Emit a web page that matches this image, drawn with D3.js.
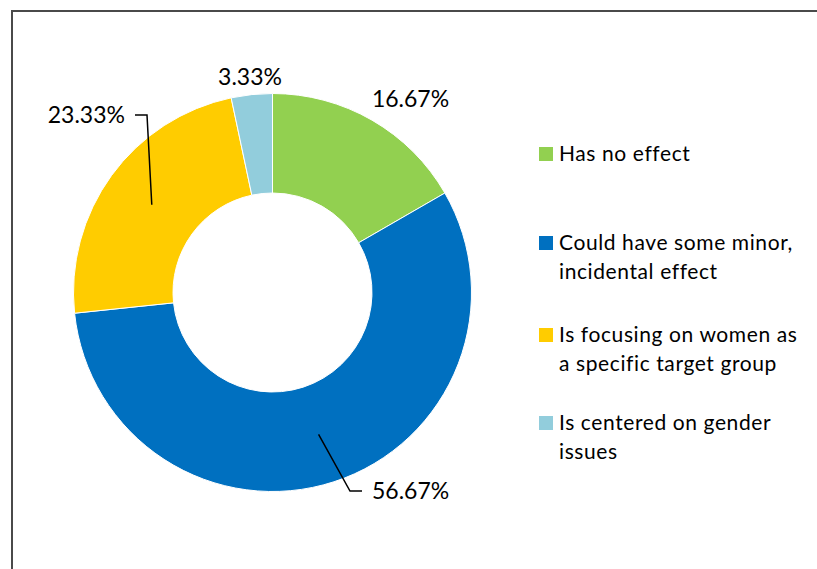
<!DOCTYPE html>
<html>
<head>
<meta charset="utf-8">
<script src="https://cdn.jsdelivr.net/npm/d3@7"></script>
<style>
  html, body { margin: 0; padding: 0; background: #fff; }
  svg { display: block; }
  text { font-family: Lato, "Open Sans", sans-serif; fill: #000; }
</style>
</head>
<body>
<svg id="chart" width="817" height="569"></svg>
<script>
// Survey answers: share of respondents per category (percent)
const categories = [
  "Has no effect",
  "Could have some minor, incidental effect",
  "Is focusing on women as a specific target group",
  "Is centered on gender issues"
];
const values = [16.67, 56.67, 23.33, 3.33];
const colors = ["#92D050", "#0070C0", "#FFCC00", "#92CDDC"];
// Legend text broken into display lines
const legendLines = [
  ["Has no effect"],
  ["Could have some minor,", "incidental effect"],
  ["Is focusing on women as", "a specific target group"],
  ["Is centered on gender", "issues"]
];

// Layout
const W = 817, H = 569;
const cx = 272.5, cy = 292.5;
const outerR = 199, innerR = 99.5;

// Label placement, relative to the donut centre.
// leader: elbow point of the leader line (null = no leader), dir: side of the text
const labelLayout = [
  { x: 138, y: -194, dir: 0, leader: null },
  { x: 77.5, y: 198.5, dir: 1, leader: true },
  { x: -125.5, y: -177.5, dir: -1, leader: true },
  { x: -22.5, y: -215.5, dir: 0, leader: null }
];

const svg = d3.select("#chart");

// Outer frame (extends past the right and bottom edges)
svg.append("rect")
  .attr("x", 12).attr("y", 11)
  .attr("width", W + 20).attr("height", H + 20)
  .attr("fill", "none")
  .attr("stroke", "#4a4a4a")
  .attr("stroke-width", 2);

const pie = d3.pie().sort(null).value(d => d)(values);
const arc = d3.arc().innerRadius(innerR).outerRadius(outerR);
const midArc = d3.arc().innerRadius((innerR + outerR) / 2).outerRadius((innerR + outerR) / 2);

const g = svg.append("g").attr("transform", `translate(${cx},${cy})`);

g.selectAll("path.slice")
  .data(pie)
  .join("path")
  .attr("class", "slice")
  .attr("d", arc)
  .attr("fill", (d, i) => colors[i])
  .attr("stroke", "#fff")
  .attr("stroke-width", 1);

// Data labels with leader lines
const fmt = v => v.toFixed(2) + "%";
pie.forEach((d, i) => {
  const L = labelLayout[i];
  if (L.leader) {
    const c = midArc.centroid(d);
    const end = [L.x + L.dir * 12, L.y];
    g.append("polyline")
      .attr("points", [c, [L.x, L.y], end].map(p => p.join(",")).join(" "))
      .attr("fill", "none")
      .attr("stroke", "#000")
      .attr("stroke-width", 1.5);
    g.append("text")
      .attr("x", end[0] + L.dir * 10)
      .attr("y", L.y)
      .attr("dy", "0.35em")
      .attr("text-anchor", L.dir > 0 ? "start" : "end")
      .style("font-size", "23px")
      .text(fmt(values[i]));
  } else {
    g.append("text")
      .attr("x", L.x)
      .attr("y", L.y)
      .attr("dy", "0.35em")
      .attr("text-anchor", "middle")
      .style("font-size", "23px")
      .text(fmt(values[i]));
  }
});

// Legend
const legendBaselines = [161, 250, 342, 430];
const lineGap = 29;
const legend = svg.append("g");
categories.forEach((c, i) => {
  const base = legendBaselines[i];
  legend.append("rect")
    .attr("x", 539).attr("y", base - 14)
    .attr("width", 14).attr("height", 14)
    .attr("fill", colors[i]);
  const t = legend.append("text")
    .attr("x", 559).attr("y", base)
    .style("font-size", "21px")
    .style("letter-spacing", "0.6px");
  legendLines[i].forEach((ln, j) => {
    t.append("tspan").attr("x", 559).attr("y", base + j * lineGap).text(ln);
  });
});
</script>
</body>
</html>
